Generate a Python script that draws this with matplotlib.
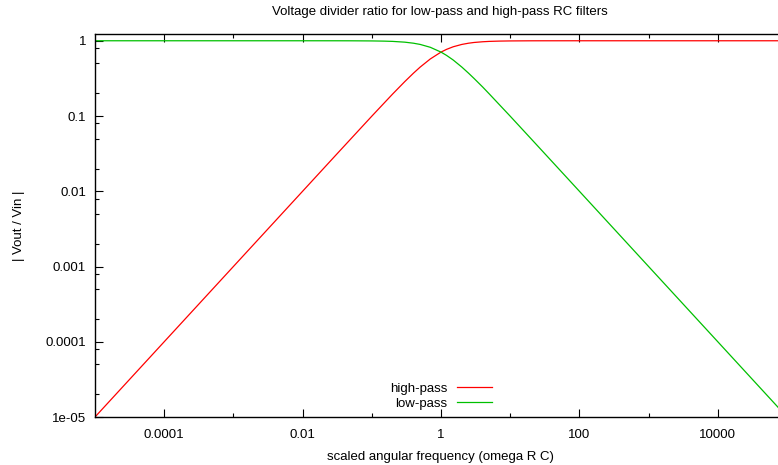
import matplotlib
matplotlib.use("Agg")
import matplotlib.pyplot as plt
from matplotlib.ticker import FixedLocator, NullFormatter

plt.rcParams['font.family'] = ['Liberation Sans', 'DejaVu Sans']

# scaled angular frequency (omega R C)
omega = [1e-5, 1e-4, 1e-3, 1e-2, 0.03, 0.05, 0.1, 0.15, 0.2, 0.3, 0.4, 0.5, 0.7,
         1.0, 1.2, 1.5, 2.0, 2.5, 3.0, 4.0, 5.0, 7.0, 10.0, 20.0, 30.0, 100.0,
         1e3, 1e4, 1e5]
high_pass = [1e-5, 1e-4, 1e-3, 0.01, 0.03, 0.0499, 0.0995, 0.148, 0.196, 0.287,
             0.371, 0.447, 0.573, 0.707, 0.768, 0.832, 0.894, 0.928, 0.949,
             0.970, 0.981, 0.990, 0.995, 0.9988, 0.9994, 0.99995, 1.0, 1.0, 1.0]
low_pass = [1.0, 1.0, 1.0, 0.99995, 0.9996, 0.9988, 0.995, 0.989, 0.981, 0.958,
            0.928, 0.894, 0.819, 0.707, 0.640, 0.555, 0.447, 0.371, 0.316,
            0.243, 0.196, 0.141, 0.0995, 0.0499, 0.0333, 0.0100, 1e-3, 1e-4, 1e-5]

x_major = [1e-4, 1e-2, 1, 1e2, 1e4]
x_major_labels = ["0.0001", "0.01", "1", "100", "10000"]
y_major = [1e-5, 1e-4, 1e-3, 1e-2, 0.1, 1]
y_major_labels = ["1e-05", "0.0001", "0.001", "0.01", "0.1", "1"]

FS = 9.5
W, H = 778, 465
fig = plt.figure(figsize=(W / 100, H / 100), dpi=100)
left, right, top, bottom = 95, 787, 34, 417
ax = fig.add_axes([left / W, 1 - bottom / H, (right - left) / W, (bottom - top) / H])

ax.plot(omega, high_pass, color='#ff0000', lw=0.9, label='high-pass')
ax.plot(omega, low_pass, color='#00c000', lw=0.9, label='low-pass')

ax.set_xscale('log')
ax.set_yscale('log')
ax.set_xlim(1e-5, 1e5)
ax.set_ylim(1e-5, 1.23)

ax.xaxis.set_major_locator(FixedLocator(x_major))
ax.set_xticklabels(x_major_labels)
ax.xaxis.set_minor_locator(FixedLocator([1e-3, 1e-1, 1e1, 1e3, 1e5]))
ax.xaxis.set_minor_formatter(NullFormatter())

ax.yaxis.set_major_locator(FixedLocator(y_major))
ax.set_yticklabels(y_major_labels)
yminor = []
for e in range(-5, 0):
    for m in (2, 5, 8):
        yminor.append(m * 10.0 ** e)
ax.yaxis.set_minor_locator(FixedLocator(yminor))
ax.yaxis.set_minor_formatter(NullFormatter())

ax.tick_params(which='both', direction='in', top=True, right=True,
               labelsize=FS, colors='black')
ax.tick_params(axis='x', which='major', pad=9)
ax.tick_params(axis='y', which='major', pad=6.5)
ax.tick_params(which='major', length=6, width=0.8)
ax.tick_params(which='minor', length=3, width=0.8)
for s in ax.spines.values():
    s.set_linewidth(1.0)
    s.set_color('black')

fig.text(440 / W, 1 - 12 / H, "Voltage divider ratio for low-pass and high-pass RC filters",
         fontsize=FS, ha='center', va='center')
ax.set_xlabel("scaled angular frequency (omega R C)", fontsize=FS)
ax.xaxis.set_label_coords((440 - left) / (right - left), -(457 - bottom) / (bottom - top))
ax.xaxis.label.set_va('center')
ax.set_ylabel("| Vout / Vin |", fontsize=FS)
ax.yaxis.set_label_coords((19 - left) / (right - left), 0.5)
ax.yaxis.label.set_va('center')

leg = ax.legend(loc='center', bbox_to_anchor=((441 - left) / (right - left), 1 - (396 - top) / (bottom - top)),
                frameon=False, markerfirst=False, fontsize=FS, handlelength=2.65,
                handletextpad=0.68, labelspacing=0.2, borderaxespad=0, borderpad=0)
for t in leg.get_texts():
    t.set_ha('right')

fig.savefig("out.png", dpi=100)
